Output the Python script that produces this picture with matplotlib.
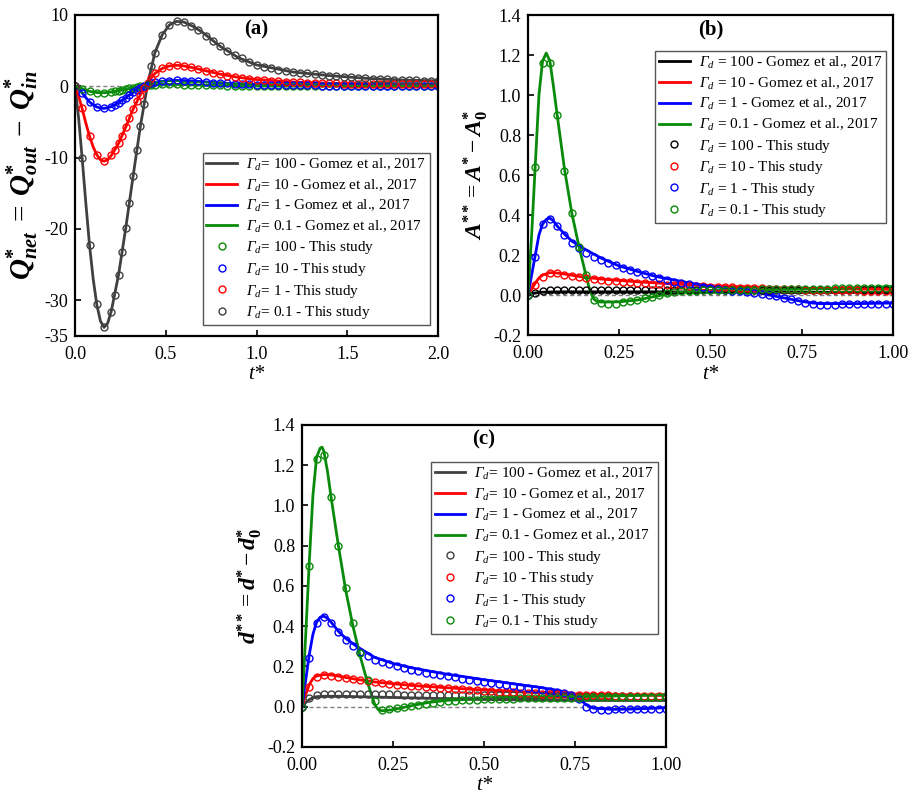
import numpy as np
import matplotlib
matplotlib.use('Agg')
import matplotlib.pyplot as plt

plt.rcParams['font.family'] = ['Liberation Serif', 'DejaVu Serif']
plt.rcParams['mathtext.fontset'] = 'custom'
plt.rcParams['mathtext.rm'] = 'Liberation Serif'
plt.rcParams['mathtext.it'] = 'Liberation Serif:italic'
plt.rcParams['mathtext.cal'] = 'Liberation Serif:italic'
plt.rcParams['mathtext.bf'] = 'Liberation Serif:bold'
plt.rcParams['mathtext.bfit'] = 'Liberation Serif:italic:bold'
plt.rcParams['axes.unicode_minus'] = False

# ---------------- Panel (a): Q*_net ----------------
ta_line = [0, 0.02, 0.04, 0.06, 0.08, 0.10, 0.12, 0.14, 0.16, 0.18, 0.20, 0.24, 0.28, 0.32, 0.36,
           0.40, 0.44, 0.48, 0.52, 0.56, 0.60, 0.65, 0.70, 0.80, 0.90, 1.0, 1.2, 1.4, 1.6, 1.8, 2.0]
a_line_100 = [0, -4.5, -10.3, -16.5, -22.3, -27.0, -30.6, -32.9, -33.8, -33.2, -31.5, -26.4, -19.8, -12.6, -5.6,
              0.3, 4.7, 7.2, 8.6, 9.1, 9.0, 8.4, 7.6, 5.6, 4.0, 3.0, 2.0, 1.5, 1.12, 0.88, 0.76]
a_line_10 = [0, -1.4, -3.2, -5.2, -7.0, -8.5, -9.6, -10.3, -10.5, -10.3, -9.7, -8.0, -5.7, -3.2, -1.2,
             0.5, 1.8, 2.5, 2.85, 2.95, 2.85, 2.6, 2.3, 1.7, 1.25, 0.95, 0.6, 0.43, 0.33, 0.28, 0.25]
a_line_1 = [0, -0.4, -0.95, -1.6, -2.2, -2.6, -2.9, -3.05, -3.1, -3.0, -2.85, -2.3, -1.6, -0.85, -0.2,
            0.3, 0.55, 0.7, 0.8, 0.82, 0.8, 0.74, 0.65, 0.47, 0.33, 0.24, 0.14, 0.09, 0.07, 0.05, 0.04]
a_line_01 = [0, -0.17, -0.35, -0.53, -0.7, -0.8, -0.88, -0.9, -0.9, -0.86, -0.8, -0.62, -0.41, -0.2, 0.0,
             0.14, 0.22, 0.26, 0.27, 0.26, 0.24, 0.2, 0.16, 0.11, 0.08, 0.05, 0.03, 0.02, 0.01, 0.01, 0.01]

ta_mark = np.round(np.concatenate([np.arange(0, 0.21, 0.04), np.arange(0.22, 0.43, 0.02),
                                   np.arange(0.44, 2.001, 0.04)]), 2)
a_mark_100 = [0, -10.0, -22.2, -30.5, -33.8, -31.6,
              -29.3, -26.4, -23.2, -19.8, -16.3, -12.6, -9.0, -5.6, -2.5, 0.3, 2.8,
              4.7, 7.2, 8.6, 9.1, 9.0, 8.5, 7.9, 7.1, 6.4, 5.6,
              5.0, 4.4, 3.9, 3.4, 3.0, 2.75, 2.5, 2.3, 2.15, 2.0,
              1.9, 1.8, 1.7, 1.6, 1.5, 1.42, 1.35, 1.28, 1.2, 1.12,
              1.06, 1.0, 0.96, 0.92, 0.88, 0.85, 0.82, 0.8, 0.78, 0.76]
a_mark_10 = [0, -3.1, -7.0, -9.6, -10.5, -9.7,
             -9.0, -8.0, -6.9, -5.7, -4.4, -3.2, -2.1, -1.2, -0.3, 0.5, 1.2,
             1.8, 2.5, 2.85, 2.95, 2.85, 2.65, 2.4, 2.15, 1.9, 1.7,
             1.5, 1.35, 1.2, 1.05, 0.95, 0.85, 0.78, 0.72, 0.66, 0.6,
             0.56, 0.52, 0.49, 0.46, 0.43, 0.41, 0.39, 0.37, 0.35, 0.33,
             0.32, 0.31, 0.3, 0.29, 0.28, 0.27, 0.26, 0.26, 0.25, 0.25]
a_mark_1 = [0, -0.9, -2.2, -2.9, -3.1, -2.85,
            -2.6, -2.3, -1.95, -1.6, -1.2, -0.85, -0.5, -0.2, 0.1, 0.3, 0.45,
            0.55, 0.7, 0.8, 0.82, 0.8, 0.75, 0.68, 0.6, 0.53, 0.47,
            0.41, 0.36, 0.31, 0.27, 0.24, 0.21, 0.19, 0.17, 0.15, 0.14,
            0.13, 0.12, 0.11, 0.1, 0.09, 0.09, 0.08, 0.08, 0.07, 0.07,
            0.06, 0.06, 0.06, 0.05, 0.05, 0.05, 0.05, 0.04, 0.04, 0.04]
a_mark_01 = [0, -0.35, -0.7, -0.88, -0.9, -0.8,
             -0.72, -0.62, -0.52, -0.41, -0.3, -0.2, -0.1, 0.0, 0.08, 0.14, 0.19,
             0.22, 0.26, 0.27, 0.26, 0.24, 0.21, 0.18, 0.15, 0.13, 0.11,
             0.09, 0.08, 0.07, 0.06, 0.05, 0.05, 0.04, 0.04, 0.04, 0.03,
             0.03, 0.03, 0.03, 0.02, 0.02, 0.02, 0.02, 0.02, 0.02, 0.01,
             0.01, 0.01, 0.01, 0.01, 0.01, 0.01, 0.01, 0.01, 0.01, 0.01]

# ---------------- Panel (b): A** ----------------
tb_mark = np.round(np.arange(0, 1.001, 0.02), 2)
b_line_100_t = [0, 0.01, 0.02, 0.03, 0.05, 0.1, 0.3, 0.5, 0.7, 1.0]
b_line_100 = [0, 0.006, 0.01, 0.013, 0.015, 0.016, 0.016, 0.015, 0.014, 0.013]
b_line_10_t = [0, 0.01, 0.02, 0.03, 0.04, 0.06, 0.08, 0.10, 0.15, 0.20, 0.30, 0.40, 0.50, 0.60, 0.70, 0.80, 0.90, 1.00]
b_line_10 = [0, 0.03, 0.06, 0.085, 0.1, 0.112, 0.11, 0.105, 0.09, 0.08, 0.066, 0.055, 0.046, 0.04, 0.035, 0.032, 0.03, 0.028]
b_line_1_t = [0, 0.01, 0.02, 0.03, 0.04, 0.05, 0.06, 0.07, 0.08, 0.10, 0.12, 0.15, 0.20, 0.25, 0.30, 0.35,
              0.40, 0.45, 0.50, 0.55, 0.60, 0.65, 0.70, 0.75, 0.78, 0.80, 0.90, 1.00]
b_line_1 = [0, 0.1, 0.2, 0.3, 0.355, 0.378, 0.385, 0.37, 0.345, 0.305, 0.27, 0.235, 0.185, 0.145, 0.118, 0.093,
            0.075, 0.058, 0.045, 0.033, 0.025, 0.004, -0.014, -0.032, -0.04, -0.043, -0.043, -0.04]
b_line_01_t = [0, 0.01, 0.02, 0.03, 0.04, 0.05, 0.06, 0.07, 0.08, 0.10, 0.12, 0.14, 0.16, 0.17, 0.18, 0.19,
               0.20, 0.25, 0.30, 0.35, 0.40, 0.45, 0.50, 0.60, 0.70, 0.80, 0.90, 1.00]
b_line_01 = [0, 0.3, 0.65, 1.0, 1.17, 1.21, 1.17, 1.04, 0.90, 0.63, 0.41, 0.24, 0.09, 0.02, -0.02, -0.033,
             -0.035, -0.034, -0.025, -0.006, 0.01, 0.018, 0.023, 0.026, 0.028, 0.031, 0.036, 0.042]

b_mark_100 = [0, 0.012, 0.022, 0.025] + [0.027] * 17 + [0.026] * 10 + [0.025] * 10 + [0.024] * 10
b_mark_10 = [0, 0.05, 0.092, 0.108, 0.108, 0.102, 0.095, 0.089, 0.083, 0.078, 0.075,
             0.072, 0.069, 0.066, 0.063, 0.06, 0.058, 0.056, 0.054, 0.052, 0.05,
             0.048, 0.046, 0.044, 0.043, 0.042, 0.04, 0.039, 0.038, 0.036, 0.035,
             0.034, 0.033, 0.032, 0.031, 0.03, 0.029, 0.028, 0.027, 0.027, 0.026,
             0.025, 0.025, 0.024, 0.023, 0.023, 0.022, 0.022, 0.021, 0.021, 0.02]
b_mark_1 = [0, 0.19, 0.355, 0.38, 0.345, 0.30, 0.26, 0.235, 0.21, 0.19, 0.175,
            0.16, 0.148, 0.137, 0.125, 0.113, 0.103, 0.093, 0.083, 0.075, 0.067,
            0.06, 0.053, 0.046, 0.04, 0.035, 0.03, 0.026, 0.022, 0.018, 0.014,
            0.01, 0.005, 0.0, -0.007, -0.014, -0.022, -0.032, -0.042, -0.047, -0.048,
            -0.048, -0.048, -0.047, -0.047, -0.046, -0.046, -0.045, -0.045, -0.044, -0.044]
b_mark_01 = [0, 0.64, 1.16, 1.16, 0.90, 0.62, 0.41, 0.24, 0.10, -0.025, -0.042,
             -0.045, -0.043, -0.036, -0.03, -0.024, -0.016, -0.008, 0.0, 0.008, 0.014,
             0.018, 0.021, 0.022, 0.023, 0.024, 0.025, 0.025, 0.026, 0.026, 0.027,
             0.027, 0.028, 0.028, 0.029, 0.029, 0.03, 0.03, 0.031, 0.031, 0.032,
             0.032, 0.033, 0.033, 0.034, 0.034, 0.035, 0.035, 0.036, 0.036, 0.037]

# ---------------- Panel (c): d** ----------------
tc_mark = np.round(np.arange(0, 1.001, 0.02), 2)
c_line_100_t = [0, 0.01, 0.02, 0.03, 0.04, 0.06, 0.1, 0.2, 0.3, 0.4, 0.5, 0.6, 0.7, 0.8, 0.9, 1.0]
c_line_100 = [0, 0.02, 0.035, 0.045, 0.05, 0.052, 0.052, 0.048, 0.044, 0.04, 0.036, 0.034, 0.032, 0.031, 0.031, 0.031]
c_line_10_t = [0, 0.01, 0.02, 0.03, 0.04, 0.06, 0.08, 0.10, 0.15, 0.20, 0.30, 0.40, 0.50, 0.60, 0.70, 0.80, 0.90, 1.00]
c_line_10 = [0, 0.06, 0.11, 0.14, 0.153, 0.16, 0.158, 0.152, 0.136, 0.123, 0.106, 0.094, 0.083, 0.074, 0.066, 0.061, 0.058, 0.056]
c_line_1_t = [0, 0.01, 0.02, 0.03, 0.04, 0.05, 0.06, 0.07, 0.08, 0.10, 0.12, 0.15, 0.20, 0.25, 0.30, 0.35, 0.40,
              0.45, 0.50, 0.55, 0.60, 0.65, 0.70, 0.74, 0.76, 0.78, 0.80, 0.85, 0.90, 1.00]
c_line_1 = [0, 0.13, 0.26, 0.36, 0.42, 0.445, 0.45, 0.44, 0.42, 0.375, 0.34, 0.3, 0.245, 0.215, 0.194, 0.177, 0.161,
            0.148, 0.134, 0.122, 0.109, 0.097, 0.082, 0.066, 0.045, 0.01, -0.007, -0.013, -0.012, -0.005]
c_line_01_t = [0, 0.01, 0.02, 0.03, 0.04, 0.05, 0.055, 0.06, 0.07, 0.08, 0.10, 0.12, 0.14, 0.16, 0.18, 0.20,
               0.21, 0.22, 0.25, 0.30, 0.35, 0.40, 0.50, 0.60, 0.70, 0.80, 0.90, 1.00]
c_line_01 = [0, 0.35, 0.72, 1.05, 1.24, 1.285, 1.29, 1.27, 1.17, 1.04, 0.80, 0.58, 0.40, 0.25, 0.12, 0.01,
             -0.015, -0.02, -0.015, 0.005, 0.022, 0.032, 0.04, 0.045, 0.048, 0.051, 0.055, 0.06]

c_mark_100 = [0, 0.045, 0.058, 0.062, 0.062,
              0.062, 0.062, 0.062, 0.062, 0.061, 0.061, 0.061, 0.061, 0.061, 0.06, 0.06, 0.06, 0.06, 0.06, 0.06, 0.06,
              0.06, 0.059, 0.059, 0.059, 0.058, 0.058, 0.058, 0.057, 0.057, 0.057, 0.056, 0.056, 0.056, 0.055, 0.055,
              0.055, 0.054, 0.054, 0.053, 0.053, 0.053, 0.052, 0.052, 0.051, 0.051, 0.05, 0.05, 0.049, 0.049, 0.048]
c_mark_10 = [0, 0.1, 0.15, 0.157, 0.155, 0.15, 0.145, 0.138, 0.132, 0.126, 0.121,
             0.117, 0.113, 0.11, 0.107, 0.104, 0.101, 0.099, 0.097, 0.094, 0.091,
             0.089, 0.086, 0.084, 0.081, 0.079, 0.077, 0.075, 0.073, 0.071, 0.069,
             0.068, 0.066, 0.065, 0.063, 0.062, 0.061, 0.06, 0.059, 0.058, 0.057,
             0.056, 0.056, 0.055, 0.055, 0.055, 0.054, 0.054, 0.054, 0.053, 0.053]
c_mark_1 = [0, 0.244, 0.416, 0.446, 0.416, 0.37, 0.333, 0.30, 0.272, 0.25, 0.232,
            0.22, 0.21, 0.2, 0.192, 0.184, 0.177, 0.17, 0.164, 0.158, 0.152,
            0.146, 0.14, 0.135, 0.13, 0.125, 0.12, 0.115, 0.11, 0.105, 0.1,
            0.095, 0.09, 0.085, 0.08, 0.074, 0.067, 0.058, 0.04, 0.0, -0.012,
            -0.014, -0.014, -0.013, -0.013, -0.012, -0.012, -0.011, -0.011, -0.01, -0.01]
c_mark_01 = [0, 0.70, 1.23, 1.25, 1.04, 0.80, 0.59, 0.415, 0.265, 0.135, 0.027,
             -0.016, -0.012, -0.007, -0.003, 0.003, 0.01, 0.016, 0.02, 0.023, 0.027,
             0.03, 0.032, 0.034, 0.035, 0.036, 0.037, 0.038, 0.039, 0.04, 0.041,
             0.041, 0.042, 0.043, 0.043, 0.044, 0.044, 0.045, 0.045, 0.046, 0.046,
             0.047, 0.047, 0.048, 0.048, 0.049, 0.049, 0.05, 0.05, 0.05, 0.051]

gammas = ['100', '10', '1', '0.1']
GRAY, BLACK, RED, BLUE, GREEN = '#404040', '#000000', '#ff0000', '#0000ff', '#0a8a0a'

GAMMA = r'$\mathcal{\Gamma}_{\mathit{d}}$'


def lab_g(g, sp=''):
    return GAMMA + sp + '= ' + g + ' - Gomez et al., 2017'


def lab_s(g, sp=''):
    return GAMMA + sp + '= ' + g + ' - This study'


fig = plt.figure(figsize=(9.16, 7.99), dpi=100)
ax_a = fig.add_axes([0.0819, 0.5795, 0.3963, 0.4018])
ax_b = fig.add_axes([0.5764, 0.5807, 0.3985, 0.4005])
ax_c = fig.add_axes([0.3297, 0.0651, 0.3974, 0.4030])

LW = 2.0
MS = 5.0
MEW = 1.0


def style(ax, xlim, ylim, xticks, yticks, xfmt, yfmt, ylabel, ysize, tag):
    ax.axhline(0, color='#808080', lw=1.0, ls=(0, (3, 2)), zorder=0)
    ax.set_xlim(*xlim)
    ax.set_ylim(*ylim)
    ax.set_xticks(xticks)
    ax.set_xticklabels([xfmt.format(v) for v in xticks])
    ax.set_yticks(yticks)
    ax.set_yticklabels([yfmt.format(v) for v in yticks])
    ax.tick_params(direction='in', length=4, width=1.2, labelsize=13)
    ax.tick_params(axis='x', pad=7)
    ax.tick_params(axis='y', pad=5)
    for s in ax.spines.values():
        s.set_linewidth(1.6)
    ax.set_xlabel('t*', fontsize=15, fontstyle='italic', labelpad=2)
    ax.set_ylabel(ylabel, fontsize=ysize, labelpad=2)
    ax.text(0.5, 0.955, tag, transform=ax.transAxes, ha='center', va='center',
            fontsize=15, fontweight='bold')


def add_legend(ax, loc, anchor):
    leg = ax.legend(loc=loc, bbox_to_anchor=anchor, fontsize=11, frameon=True, fancybox=False,
                    edgecolor='#555555', framealpha=1, borderaxespad=0, handlelength=2.0,
                    labelspacing=0.3, handletextpad=0.6, borderpad=0.25)
    leg.get_frame().set_linewidth(1.0)


# Panel (a)
for vals, col, g in zip([a_line_100, a_line_10, a_line_1, a_line_01], [GRAY, RED, BLUE, GREEN], gammas):
    ax_a.plot(ta_line, vals, color=col, lw=LW, label=lab_g(g))
# the source legend pairs the marker colours with the labels in this order
for vals, col, g in zip([a_mark_01, a_mark_1, a_mark_10, a_mark_100], [GREEN, BLUE, RED, GRAY], gammas):
    ax_a.plot(ta_mark, vals, ls='none', marker='o', ms=MS, mfc='none', mec=col, mew=MEW, label=lab_s(g))
style(ax_a, (0, 2.0), (-35, 10), [0, 0.5, 1.0, 1.5, 2.0], [-35, -30, -20, -10, 0, 10],
      '{:.1f}', '{:.0f}',
      r'$\mathbfit{Q}^{\mathbf{*}}_{\mathbfit{net}}\;=\;\mathbfit{Q}^{\mathbf{*}}_{\mathbfit{out}}\;-\;\mathbfit{Q}^{\mathbf{*}}_{\mathbfit{in}}$',
      21, '(a)')
add_legend(ax_a, 'lower right', (0.977, 0.034))

# Panel (b)
for tt, vals, col, g in zip([b_line_100_t, b_line_10_t, b_line_1_t, b_line_01_t],
                            [b_line_100, b_line_10, b_line_1, b_line_01], [BLACK, RED, BLUE, GREEN], gammas):
    ax_b.plot(tt, vals, color=col, lw=LW, label=lab_g(g, ' '))
for vals, col, g in zip([b_mark_100, b_mark_10, b_mark_1, b_mark_01], [BLACK, RED, BLUE, GREEN], gammas):
    ax_b.plot(tb_mark, vals, ls='none', marker='o', ms=MS, mfc='none', mec=col, mew=MEW, label=lab_s(g, ' '))
style(ax_b, (0, 1.0), (-0.2, 1.4), [0, 0.25, 0.5, 0.75, 1.0], [-0.2, 0, 0.2, 0.4, 0.6, 0.8, 1.0, 1.2, 1.4],
      '{:.2f}', '{:.1f}',
      r'$\mathbfit{A}^{\mathbf{**}}=\mathbfit{A}^{\mathbf{*}}-\mathbfit{A}^{\mathbf{*}}_{\mathbf{0}}$',
      17, '(b)')
add_legend(ax_b, 'upper right', (0.981, 0.8875))

# Panel (c)
for tt, vals, col, g in zip([c_line_100_t, c_line_10_t, c_line_1_t, c_line_01_t],
                            [c_line_100, c_line_10, c_line_1, c_line_01], [GRAY, RED, BLUE, GREEN], gammas):
    ax_c.plot(tt, vals, color=col, lw=LW, label=lab_g(g))
for vals, col, g in zip([c_mark_100, c_mark_10, c_mark_1, c_mark_01], [GRAY, RED, BLUE, GREEN], gammas):
    ax_c.plot(tc_mark, vals, ls='none', marker='o', ms=MS, mfc='none', mec=col, mew=MEW, label=lab_s(g))
style(ax_c, (0, 1.0), (-0.2, 1.4), [0, 0.25, 0.5, 0.75, 1.0], [-0.2, 0, 0.2, 0.4, 0.6, 0.8, 1.0, 1.2, 1.4],
      '{:.2f}', '{:.1f}',
      r'$\mathbfit{d}^{\mathbf{**}}=\mathbfit{d}^{\mathbf{*}}-\mathbfit{d}^{\mathbf{*}}_{\mathbf{0}}$',
      17, '(c)')
add_legend(ax_c, 'upper right', (0.978, 0.885))

fig.savefig('out.png', dpi=100)
